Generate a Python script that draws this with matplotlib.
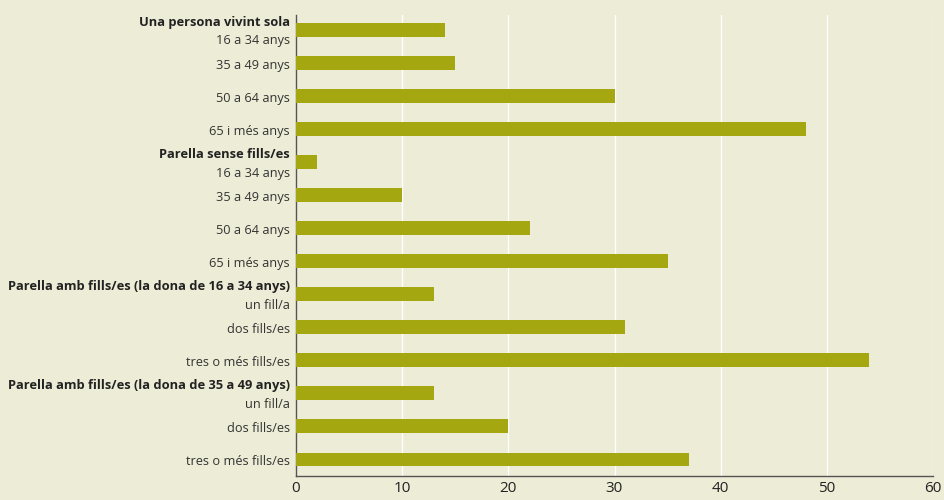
import matplotlib
matplotlib.use("Agg")
import matplotlib.pyplot as plt

groups = ["Una persona vivint sola", "Parella sense fills/es",
          "Parella amb fills/es (la dona de 16 a 34 anys)",
          "Parella amb fills/es (la dona de 35 a 49 anys)"]
sub_labels = [
    ["16 a 34 anys", "35 a 49 anys", "50 a 64 anys", "65 i més anys"],
    ["16 a 34 anys", "35 a 49 anys", "50 a 64 anys", "65 i més anys"],
    ["un fill/a", "dos fills/es", "tres o més fills/es"],
    ["un fill/a", "dos fills/es", "tres o més fills/es"],
]
values = [
    [14, 15, 30, 48],
    [2, 10, 22, 35],
    [13, 31, 54],
    [13, 20, 37],
]
xticks = [0, 10, 20, 30, 40, 50, 60]

BG = "#edecd6"
BAR = "#a5a711"
TXT = "#333333"

plt.rcParams['font.family'] = ['Open Sans', 'DejaVu Sans']

fig = plt.figure(figsize=(9.44, 5.0), dpi=100, facecolor=BG)
ax = fig.add_axes([296/944, 1-476/500, (933-296)/944, (476-15)/500])
ax.set_facecolor(BG)

pos = 0
for g, subs, vals in zip(groups, sub_labels, values):
    for i, (s, v) in enumerate(zip(subs, vals)):
        ax.barh(pos, v, height=0.42, color=BAR, zorder=3)
        if i == 0:
            ax.annotate(g, xy=(0, pos), xycoords=('axes fraction', 'data'),
                        xytext=(-4.5, 5.5), textcoords='offset points',
                        ha='right', va='center', fontsize=9.3, fontweight='bold',
                        color='#222222')
            ax.annotate(s, xy=(0, pos), xycoords=('axes fraction', 'data'),
                        xytext=(-4.5, -8), textcoords='offset points',
                        ha='right', va='center', fontsize=9.2, color=TXT)
        else:
            ax.annotate(s, xy=(0, pos), xycoords=('axes fraction', 'data'),
                        xytext=(-4.5, -1.5), textcoords='offset points',
                        ha='right', va='center', fontsize=9.2, color=TXT)
        pos += 1

ax.set_ylim(pos - 0.5, -0.45)
ax.set_xlim(0, 60)
ax.set_xticks(xticks)
ax.set_xticklabels([str(t) for t in xticks], fontsize=11, color='#222222')
ax.set_yticks([])
ax.tick_params(axis='x', length=0, pad=3.5)
ax.grid(axis='x', color='white', linewidth=1.0, zorder=1)
for s in ['top', 'right']:
    ax.spines[s].set_visible(False)
for s in ['left', 'bottom']:
    ax.spines[s].set_color('#555555')
    ax.spines[s].set_linewidth(1.0)

fig.savefig("out.png", dpi=100, facecolor=BG)
